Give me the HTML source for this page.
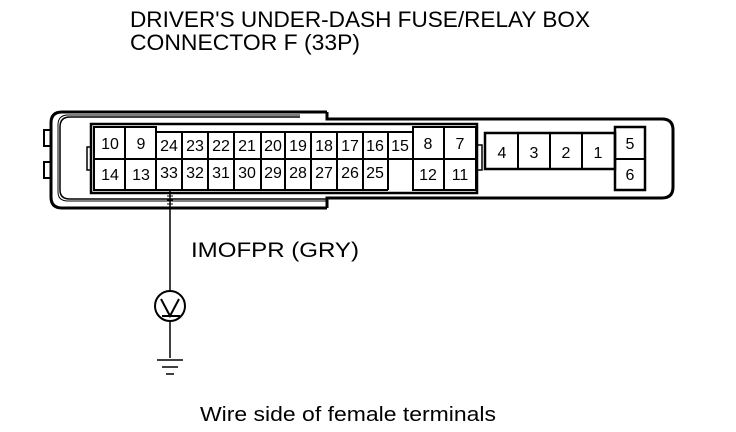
<!DOCTYPE html>
<html><head><style>body{margin:0;background:#fff}svg{display:block}</style></head><body>
<svg width="736" height="432" viewBox="0 0 736 432" xmlns="http://www.w3.org/2000/svg" font-family="Liberation Sans, Arial, sans-serif">
<rect width="736" height="432" fill="#fff"/>
<text x="130" y="27" font-size="22" textLength="460" lengthAdjust="spacingAndGlyphs">DRIVER'S UNDER-DASH FUSE/RELAY BOX</text>
<text x="130" y="50" font-size="22" textLength="230" lengthAdjust="spacingAndGlyphs">CONNECTOR F (33P)</text>
<g fill="none" stroke="#000">
<path d="M327 112 H62 Q51 112 51 123 V197 Q51 208 62 208 H327" stroke-width="3"/>
<path d="M300 117 H70 Q60 117 60 127 V190 Q60 199 70 199 H327" stroke-width="1.5"/>
<path d="M300 115 H68 Q58 115 58 125 V192 Q58 201 68 201 H327" stroke-width="1"/>
<rect x="44" y="130" width="7" height="16" stroke-width="2"/>
<rect x="44" y="162" width="7" height="16" stroke-width="2"/>
<path d="M327 112 V119 H662 Q673 119 673 130 V187 Q673 198 662 198 H327 V208" stroke-width="3"/>
<rect x="91" y="124" width="386" height="69" stroke-width="2.5"/>
<rect x="87" y="147" width="4" height="23" stroke-width="1.5"/>
<rect x="477" y="145" width="5" height="25" stroke-width="1.5"/>
<path d="M94 127 H156 V190 H94 Z M125 127 V190 M94 159 H156" stroke-width="2"/>
<path d="M156 132 H413 M156 159 H413 M156 190 H388 M413 127 H476 V190 H413 Z M444 127 V190 M413 159 H476" stroke-width="2"/>
<path d="M182 132 V190 M208 132 V190 M234 132 V190 M261 132 V190 M285 132 V190 M311 132 V190 M337 132 V190 M363 132 V190 M388 132 V190" stroke-width="2"/>
<rect x="485" y="133" width="130" height="36" stroke-width="2.5"/>
<path d="M518 133 V169 M550 133 V169 M582 133 V169" stroke-width="2"/>
<rect x="615" y="127" width="30" height="63" stroke-width="2.5"/>
<path d="M615 159 H645" stroke-width="2"/>
<path d="M170 190 V291 M170 321 V358 M157 360 H183 M162 367 H178 M166 374 H174" stroke-width="1.5"/>
<path d="M167 196 H173 M167 200 H173 M167 204 H173" stroke-width="1"/>
<circle cx="170" cy="306" r="15" stroke-width="2"/>
<path d="M161 299 L170 316 L179 299 M162 316 H180" stroke-width="2"/>
</g>
<g font-size="16" text-anchor="middle">
<text x="110" y="149">10</text><text x="141" y="149">9</text>
<text x="110" y="180">14</text><text x="141" y="180">13</text>
<text x="169" y="151">24</text><text x="195" y="151">23</text><text x="221" y="151">22</text><text x="247" y="151">21</text><text x="273" y="151">20</text><text x="298" y="151">19</text><text x="324" y="151">18</text><text x="350" y="151">17</text><text x="375" y="151">16</text><text x="400" y="151">15</text>
<text x="169" y="178">33</text><text x="195" y="178">32</text><text x="221" y="178">31</text><text x="247" y="178">30</text><text x="273" y="178">29</text><text x="298" y="178">28</text><text x="324" y="178">27</text><text x="350" y="178">26</text><text x="375" y="178">25</text>
<text x="428" y="149">8</text><text x="460" y="149">7</text>
<text x="428" y="180">12</text><text x="460" y="180">11</text>
<text x="502" y="158">4</text><text x="534" y="158">3</text><text x="566" y="158">2</text><text x="598" y="158">1</text>
<text x="630" y="149">5</text><text x="630" y="180">6</text>
</g>
<text x="191" y="257" font-size="21" textLength="168" lengthAdjust="spacingAndGlyphs">IMOFPR (GRY)</text>
<text x="200" y="421" font-size="20" textLength="296" lengthAdjust="spacingAndGlyphs">Wire side of female terminals</text>
</svg>
</body></html>
